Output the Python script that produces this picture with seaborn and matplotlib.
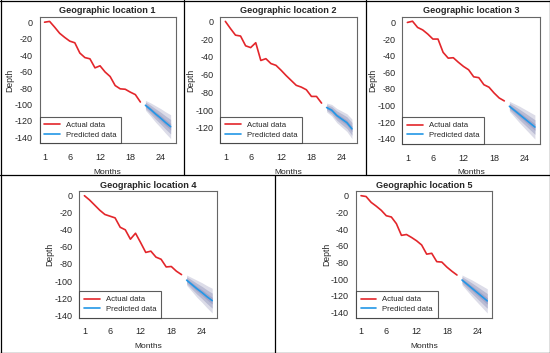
import numpy as np
import pandas as pd
import seaborn as sns
import matplotlib.pyplot as plt
from matplotlib.lines import Line2D

# months of observed depth and of the forecast
months_actual = [1, 2, 3, 4, 5, 6, 7, 8, 9, 10, 11, 12, 13, 14, 15, 16, 17, 18, 19, 20]
months_pred = [21, 22, 23, 24, 25, 26]
month_ticks = [1, 6, 12, 18, 24]

# observed depth, one list per location
actual_1 = [0, 1, -6, -13.5, -18.5, -23, -25, -37.5, -43, -44.5, -55.5, -53, -60.5, -66, -77, -81, -81.5, -85, -88, -97]
actual_2 = [0, -8, -15.5, -16.5, -27.5, -29.5, -24, -44, -42, -47.5, -49.5, -55, -61, -66.5, -72, -74, -77, -84.5, -84.5, -92]
actual_3 = [0, 1.5, -6, -9, -14, -20, -20, -36, -43, -42.5, -48, -53, -57, -65.5, -66.5, -75, -78, -85, -91, -94.5]
actual_4 = [0, -5, -11, -17, -22, -24, -26, -37, -40, -51, -44, -55, -66.5, -65, -72, -74.5, -83.5, -83, -88.5, -92.5]
actual_5 = [0, -1, -8, -12.5, -17.5, -24, -25.5, -33.5, -47.5, -46.5, -50, -54, -59, -70, -69, -79, -79.5, -85.5, -90.5, -95]

# point forecasts
pred_1 = [-101, -106, -111.5, -116.5, -122, -127]
pred_2 = [-97, -100, -106, -110, -114, -121]
pred_3 = [-101, -106, -111, -116, -121, -126]
pred_4 = [-99, -104, -109, -113.5, -118.5, -123]
pred_5 = [-101, -106, -111, -116, -121, -126]

# half widths of the 80% and 95% intervals
band80_1 = [4, 5.2, 6.3, 7.2, 8, 8.8]
band95_1 = [6, 8, 10, 11.5, 13, 14.5]
band80_2 = [3.3, 4.3, 5.2, 6, 6.6, 7.2]
band95_2 = [5, 6.5, 8, 9, 10, 11]
band80_3 = [4, 5.2, 6.3, 7.2, 8, 8.8]
band95_3 = [6, 8, 10, 11.5, 13, 14.5]
band80_4 = [4, 5.2, 6.3, 7.2, 8, 8.8]
band95_4 = [6, 8, 10, 11.5, 13, 14.5]
band80_5 = [4, 5.2, 6.3, 7.2, 8, 8.8]
band95_5 = [6, 8, 10, 11.5, 13, 14.5]

titles = ["Geographic location 1", "Geographic location 2", "Geographic location 3",
          "Geographic location 4", "Geographic location 5"]
y_ticks_list = [[0, -20, -40, -60, -80, -100, -120, -140],
                [0, -20, -40, -60, -80, -100, -120],
                [0, -20, -40, -60, -80, -100, -120, -140],
                [0, -20, -40, -60, -80, -100, -120, -140],
                [0, -20, -40, -60, -80, -100, -120, -140]]

sns.set_style("white")
plt.rcParams['font.family'] = ['Liberation Sans', 'DejaVu Sans']
plt.rcParams['axes.unicode_minus'] = False

W, H = 550, 353
fig = plt.figure(figsize=(5.5, 3.53), dpi=100)

# axes boxes in pixels: left, top, right, bottom
boxes = [(39.5, 16.7, 175.7, 143.3),
         (220.3, 16.7, 357.0, 143.3),
         (402.3, 16.5, 540.0, 143.8),
         (79.3, 191.0, 217.3, 317.7),
         (356.0, 191.0, 492.3, 317.7)]

actuals = [actual_1, actual_2, actual_3, actual_4, actual_5]
preds = [pred_1, pred_2, pred_3, pred_4, pred_5]
bands80 = [band80_1, band80_2, band80_3, band80_4, band80_5]
bands95 = [band95_1, band95_2, band95_3, band95_4, band95_5]

red = '#E3262B'
blue = '#2297E6'

for i in range(5):
    l, t, r, b = boxes[i]
    ax = fig.add_axes([l / W, 1 - b / H, (r - l) / W, (b - t) / H])

    act = pd.DataFrame({"Months": months_actual, "Depth": actuals[i]})
    pr = np.array(preds[i])
    b80 = np.array(bands80[i])
    b95 = np.array(bands95[i])

    ax.fill_between(months_pred, pr - b95, pr + b95, color='#DCDCE8', lw=0)
    ax.fill_between(months_pred, pr - b80, pr + b80, color='#B9BBD3', lw=0)
    ax.fill_between(months_pred, pr - 0.45 * b80, pr + 0.45 * b80, color='#A3A6C9', lw=0)
    sns.lineplot(data=act, x="Months", y="Depth", color=red, lw=1.2, ax=ax)
    sns.lineplot(x=months_pred, y=preds[i], color=blue, lw=1.2, ax=ax)

    lo = min(min(actuals[i]), (pr - b95).min())
    hi = max(max(actuals[i]), (pr + b95).max())
    pad = 0.04 * (hi - lo)
    ax.set_ylim(lo - pad, hi + pad)
    ax.set_xlim(0, 27)
    ax.set_xticks(month_ticks)
    ax.set_yticks(y_ticks_list[i])
    ax.tick_params(axis='both', labelsize=6.5, length=3, width=0.6,
                   color='#444444', pad=2, direction='out')
    ax.tick_params(axis='x', pad=4)
    for s in ax.spines.values():
        s.set_color('#666666')
        s.set_linewidth(0.8)
    ax.set_xlabel("Months", fontsize=6, labelpad=5)
    ax.set_ylabel("Depth", fontsize=6.2)
    ax.yaxis.set_label_coords(-25.0 / (r - l), 0.5)
    ax.set_title(titles[i], fontsize=6.6, fontweight='bold', pad=2.5)

    handles = [Line2D([], [], color=red, lw=1.2), Line2D([], [], color=blue, lw=1.2)]
    leg = ax.legend(handles, ["Actual data", "Predicted data"], loc='lower left',
                    fontsize=5.6, frameon=True, fancybox=False, borderaxespad=0,
                    handlelength=2.0, handletextpad=0.8, borderpad=0.6,
                    labelspacing=0.3)
    leg.get_frame().set_edgecolor('#333333')
    leg.get_frame().set_linewidth(0.8)

# cell borders
def hline(y, x0, x1):
    fig.add_artist(Line2D([x0 / W, x1 / W], [1 - y / H, 1 - y / H], color='black', lw=0.9))

def vline(x, y0, y1):
    fig.add_artist(Line2D([x / W, x / W], [1 - y0 / H, 1 - y1 / H], color='black', lw=0.9))

hline(0.5, 0, W)
hline(175, 0, W)
hline(352.5, 0, W)
vline(0.5, 0, H)
vline(549.5, 0, H)
vline(183.5, 0, 175)
vline(365.5, 0, 175)
vline(275, 175, H)

fig.savefig("out.png", dpi=100)
